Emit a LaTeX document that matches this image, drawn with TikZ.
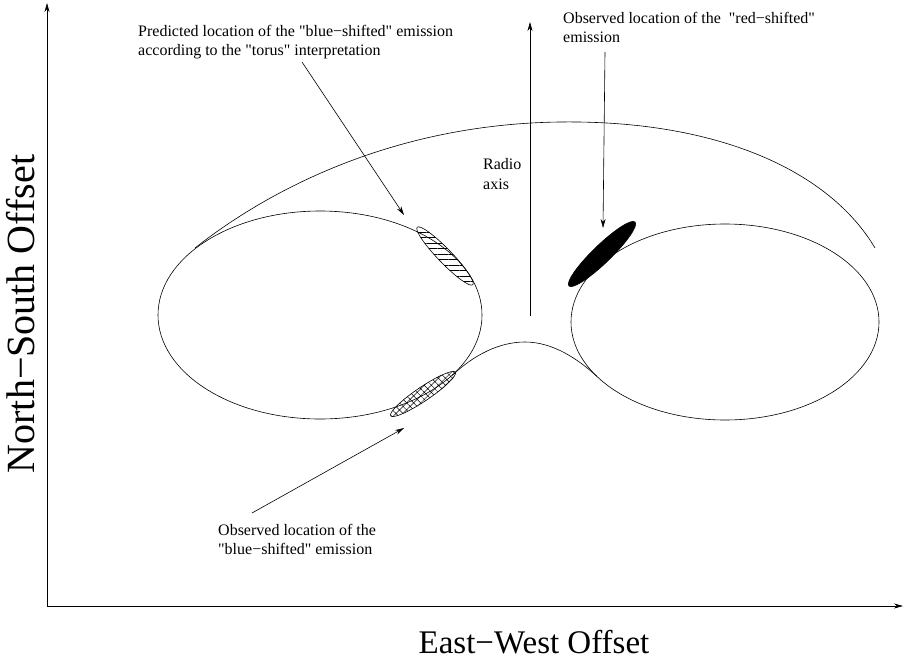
\documentclass[tikz,border=0pt]{standalone}
\usepackage{fontspec}
\setmainfont{Liberation Serif}[Ligatures=TeXOff]
\usetikzlibrary{arrows.meta,shapes.geometric,patterns.meta}
\begin{document}
\begin{tikzpicture}[x=1pt,y=-1pt,
  arr/.style={-{Stealth[length=9pt,width=5pt]}, line width=0.6pt},
  lbl/.style={font=\fontsize{16}{19.5}\selectfont, align=left, anchor=base west, inner sep=0pt},
  big/.style={inner sep=0pt, anchor=base},
  torus/.style={draw, ellipse, inner sep=0pt, line width=0.6pt},
  blob/.style={draw, ellipse, inner sep=0pt, line width=0.6pt}]
\useasboundingbox (0,0) rectangle (904,661);
% axes
\coordinate (O) at (47,606);
\coordinate (ytop) at (47,3);
\coordinate (xend) at (903,606);
\draw[arr] (O) -- (ytop);
\draw[arr] (O) -- (xend);
\node[big, font=\fontsize{33}{40}\selectfont] (xlab) at (534,653) {East−West Offset};
\node[big, rotate=90, font=\fontsize{40}{48}\selectfont] (ylab) at (34,314) {North−South Offset};
% torus cross-sections
\node[torus, minimum width=324pt, minimum height=208pt] (L) at (320,315) {};
\node[torus, minimum width=308pt, minimum height=196pt] (R) at (725,322) {};
\coordinate (arcL) at (195,248);
\coordinate (arcT) at (560,122);
\coordinate (arcR) at (875,248);
\draw[line width=0.6pt] (arcL) .. controls (275,185) and (400,124) .. (arcT)
  .. controls (720,120) and (830,172) .. (arcR);
\coordinate (humpL) at (452,375.5);
\coordinate (humpT) at (525,342);
\coordinate (humpR) at (597,376.5);
\draw[line width=0.6pt] (humpL) .. controls (475,354) and (500,342) .. (humpT)
  .. controls (552,342) and (577,358) .. (humpR);
% emission regions
\node[blob, minimum width=80pt, minimum height=14pt, rotate=-46,
  pattern={Lines[angle=0,distance=5.5pt,line width=0.6pt]}] (pred) at (445,256) {};
\node[blob, minimum width=78pt, minimum height=14pt, rotate=34,
  pattern={Hatch[angle=45,distance=5pt,line width=0.5pt]}] (blue) at (423,394) {};
\node[blob, minimum width=92pt, minimum height=18pt, rotate=44, fill=black] (red) at (602,254) {};
% labels (anchor = baseline of last line)
\node[lbl] (tpred) at (138,56) {Predicted location of the "blue−shifted" emission\\according to the "torus" interpretation};
\node[lbl] (tred) at (563,43) {Observed location of the \ "red−shifted"\\emission};
\node[lbl] (tblue) at (218,554.5) {Observed location of the\\"blue−shifted" emission};
\node[lbl] (tradio) at (483,189) {Radio\\axis};
% connectors
\coordinate (predS) at (302,62);
\coordinate (predE) at (404,215);
\draw[arr] (predS) -- (predE);
\coordinate (redS) at (605,52);
\coordinate (redE) at (603,228);
\draw[arr] (redS) -- (redE);
\coordinate (blueS) at (252,513);
\coordinate (blueE) at (404,428);
\draw[arr] (blueS) -- (blueE);
\coordinate (radS) at (530,316);
\coordinate (radE) at (530,22);
\draw[arr] (radS) -- (radE);
\end{tikzpicture}
\end{document}
